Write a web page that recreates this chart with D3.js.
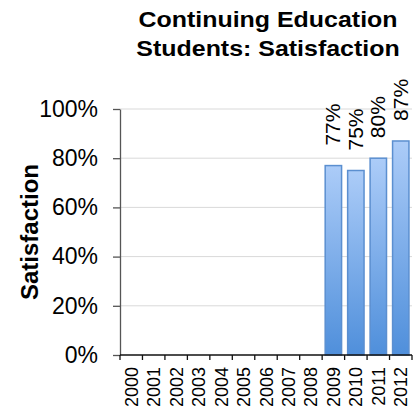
<!DOCTYPE html>
<html>
<head>
<meta charset="utf-8">
<script src="https://cdn.jsdelivr.net/npm/d3@7"></script>
<style>
  body { margin: 0; background: #fff; }
  text { font-family: Arial, "Liberation Sans", sans-serif; }
</style>
</head>
<body>
<svg id="chart"></svg>
<script>
// years on the x axis
const years = ["2000","2001","2002","2003","2004","2005","2006","2007","2008","2009","2010","2011","2012"];
// satisfaction values (null = no data)
const satisfaction = [null, null, null, null, null, null, null, null, null, 0.77, 0.75, 0.80, 0.87];
const yTicks = [0, 0.2, 0.4, 0.6, 0.8, 1.0];
const titleLines = ["Continuing Education", "Students: Satisfaction"];

const width = 416;
const height = 410;
const margin = { top: 109, right: 4, bottom: 55, left: 120 };

const svg = d3.select("#chart")
    .attr("width", width)
    .attr("height", height);

const x = d3.scaleBand()
    .domain(years)
    .range([margin.left, width - margin.right])
    .paddingInner(0.27)
    .paddingOuter(0.135);

const y = d3.scaleLinear()
    .domain([0, 1])
    .range([height - margin.bottom, margin.top]);

// gradient for bars
const grad = svg.append("defs").append("linearGradient")
    .attr("id", "barGrad")
    .attr("x1", 0).attr("y1", 0).attr("x2", 0).attr("y2", 1);
grad.append("stop").attr("offset", "0%").attr("stop-color", "#acccf8");
grad.append("stop").attr("offset", "100%").attr("stop-color", "#4f8fdb");

// gridlines
svg.append("g")
    .selectAll("line")
    .data(yTicks.filter(d => d > 0))
    .enter().append("line")
    .attr("x1", margin.left)
    .attr("x2", width - margin.right)
    .attr("y1", d => y(d))
    .attr("y2", d => y(d))
    .attr("stroke", "#d9d9d9")
    .attr("stroke-width", 1);

// bars
const data = years.map((yr, i) => ({ year: yr, value: satisfaction[i] })).filter(d => d.value != null);

svg.append("g")
    .selectAll("rect")
    .data(data)
    .enter().append("rect")
    .attr("x", d => x(d.year))
    .attr("y", d => y(d.value))
    .attr("width", x.bandwidth())
    .attr("height", d => y(0) - y(d.value))
    .attr("fill", "url(#barGrad)")
    .attr("stroke", "#5b8fd0")
    .attr("stroke-width", 1.5);

// value labels
svg.append("g")
    .selectAll("text")
    .data(data)
    .enter().append("text")
    .attr("transform", d => `translate(${x(d.year) + x.bandwidth() / 2 + 7},${y(d.value) - 20}) rotate(-90)`)
    .attr("text-anchor", "start")
    .attr("font-size", 21)
    .attr("fill", "#000")
    .text(d => Math.round(d.value * 100) + "%");

// y axis
const yAxis = svg.append("g")
    .attr("transform", `translate(${margin.left},0)`)
    .call(d3.axisLeft(y).tickValues(yTicks).tickFormat(d3.format(".0%")).tickSize(7).tickSizeOuter(0).tickPadding(15));
yAxis.select(".domain").attr("stroke", "#555").attr("stroke-width", 1.3);
yAxis.selectAll(".tick line").attr("stroke", "#555").attr("stroke-width", 1.3);
yAxis.selectAll(".tick text").attr("font-size", 23).attr("fill", "#000").attr("font-family", "Arial, 'Liberation Sans', sans-serif");

// x axis line with ticks at band boundaries
const xg = svg.append("g");
xg.append("line")
    .attr("x1", margin.left)
    .attr("x2", width - margin.right)
    .attr("y1", y(0))
    .attr("y2", y(0))
    .attr("stroke", "#111")
    .attr("stroke-width", 1.3);
const step = x.step();
const bounds = years.map((yr, i) => margin.left + i * step).concat([width - margin.right]);
xg.selectAll("line.tk")
    .data(bounds)
    .enter().append("line")
    .attr("class", "tk")
    .attr("x1", d => d).attr("x2", d => d)
    .attr("y1", y(0)).attr("y2", y(0) + 5)
    .attr("stroke", "#111")
    .attr("stroke-width", 1.3);
xg.selectAll("text")
    .data(years)
    .enter().append("text")
    .attr("transform", d => `translate(${x(d) + x.bandwidth() / 2 + 6.5},${y(0) + 12}) rotate(-90)`)
    .attr("text-anchor", "end")
    .attr("font-size", 18)
    .attr("fill", "#000")
    .text(d => d);

// y axis title
svg.append("text")
    .attr("transform", `translate(${38},${(y(0) + y(1)) / 2}) rotate(-90)`)
    .attr("text-anchor", "middle")
    .attr("font-size", 24)
    .attr("font-weight", "bold")
    .text("Satisfaction");

// chart title (slightly stretched to match the reference's wide lettering)
svg.append("g")
    .selectAll("text")
    .data(titleLines)
    .enter().append("text")
    .attr("transform", (d, i) => `translate(268,${27 + i * 28.5}) scale(1.085,1)`)
    .attr("text-anchor", "middle")
    .attr("font-size", 23)
    .attr("font-weight", "bold")
    .text(d => d);
</script>
</body>
</html>
